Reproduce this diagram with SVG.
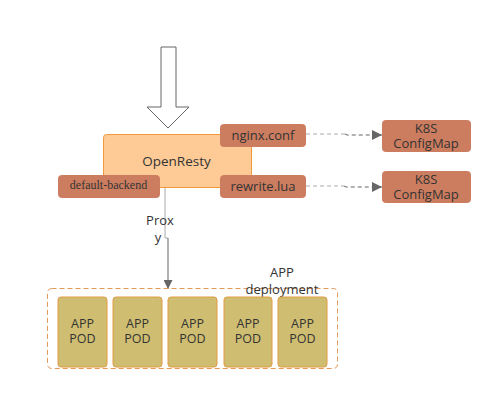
<svg xmlns="http://www.w3.org/2000/svg" width="502" height="400" viewBox="0 0 502 400">
<defs>
<style>
text{font-family:"Open Sans","Noto Sans","DejaVu Sans",sans-serif;font-size:13px;fill:#333;text-anchor:middle}
.big{font-size:13.5px}
.pt{font-size:12.5px}
.tag{fill:#cd7d5f;stroke:#cd7d5f}
.pod{fill:#cfbe71;stroke:#e39a45;stroke-width:1}
.serif{font-family:"Liberation Serif","DejaVu Serif",serif;font-size:12px}
</style>
<marker id="ah" viewBox="0 0 10 10" refX="10" refY="5" markerWidth="10" markerHeight="10" markerUnits="userSpaceOnUse" orient="auto"><path d="M0,0 L10,5 L0,10 z" fill="#666"/></marker>
<marker id="ahv" viewBox="0 0 10 10" refX="10" refY="5" markerWidth="10" markerHeight="9" markerUnits="userSpaceOnUse" orient="auto"><path d="M0,0 L10,5 L0,10 z" fill="#666"/></marker>
</defs>
<g id="entry-arrow"><path d="M161,47 L176,47 L176,107 L189,107 L168,128 L147,107 L161,107 Z" fill="#fff" stroke="#666" stroke-width="1"/></g>
<g id="connectors" fill="none">
<path d="M306,134 L345,134" stroke="#aaa" stroke-dasharray="4,3"/>
<path d="M345,134 L347,135 L382,135" stroke="#666" stroke-dasharray="4,3" marker-end="url(#ah)"/>
<path d="M306,186 L344,186" stroke="#aaa" stroke-dasharray="4,3"/>
<path d="M344,186 L346,187 L382,187" stroke="#666" stroke-dasharray="4,3" marker-end="url(#ah)"/>
<path d="M165,188 L165,238 L168,238" stroke="#aaa"/>
<path d="M168,238 L168,289" stroke="#666" marker-end="url(#ahv)"/>
</g>
<g id="openresty"><rect x="103.5" y="134.5" width="148" height="53" rx="3" fill="#fecb96" stroke="#f09a3c"/><text class="big" x="176.5" y="166">OpenResty</text></g>
<g id="nginx-conf"><rect class="tag" x="220.5" y="124.5" width="85" height="22" rx="3"/><text x="263" y="140">nginx.conf</text></g>
<g id="rewrite-lua"><rect class="tag" x="220.5" y="175.5" width="85" height="22" rx="3"/><text x="263" y="191">rewrite.lua</text></g>
<g id="default-backend"><rect class="tag" x="58.5" y="175.5" width="101" height="22" rx="3"/><text class="serif" x="108.5" y="189">default-backend</text></g>
<g id="configmap-1"><rect class="tag" x="382.5" y="120.5" width="88" height="31" rx="3"/><text x="426" y="133">K8S</text><text x="426" y="148">ConfigMap</text></g>
<g id="configmap-2"><rect class="tag" x="382.5" y="171.5" width="88" height="31" rx="3"/><text x="426" y="184">K8S</text><text x="426" y="199">ConfigMap</text></g>
<g id="proxy-label"><text x="160" y="225">Prox</text><text x="158" y="242">y</text></g>
<g id="app-deployment"><rect x="47.5" y="288.5" width="290" height="80" rx="4" fill="none" stroke="#e39a5a" stroke-dasharray="5,3"/><text x="282" y="277">APP</text><text x="282" y="294">deployment</text></g>
<g id="pod-1"><rect class="pod" x="58" y="297" width="49" height="70" rx="3"/><text class="pt" x="82.5" y="328">APP</text><text class="pt" x="82.5" y="343">POD</text></g>
<g id="pod-2"><rect class="pod" x="113" y="297" width="49" height="70" rx="3"/><text class="pt" x="137.5" y="328">APP</text><text class="pt" x="137.5" y="343">POD</text></g>
<g id="pod-3"><rect class="pod" x="168" y="297" width="49" height="70" rx="3"/><text class="pt" x="192.5" y="328">APP</text><text class="pt" x="192.5" y="343">POD</text></g>
<g id="pod-4"><rect class="pod" x="224" y="297" width="48" height="70" rx="3"/><text class="pt" x="248" y="328">APP</text><text class="pt" x="248" y="343">POD</text></g>
<g id="pod-5"><rect class="pod" x="278" y="297" width="49" height="70" rx="3"/><text class="pt" x="302.5" y="328">APP</text><text class="pt" x="302.5" y="343">POD</text></g>
</svg>
